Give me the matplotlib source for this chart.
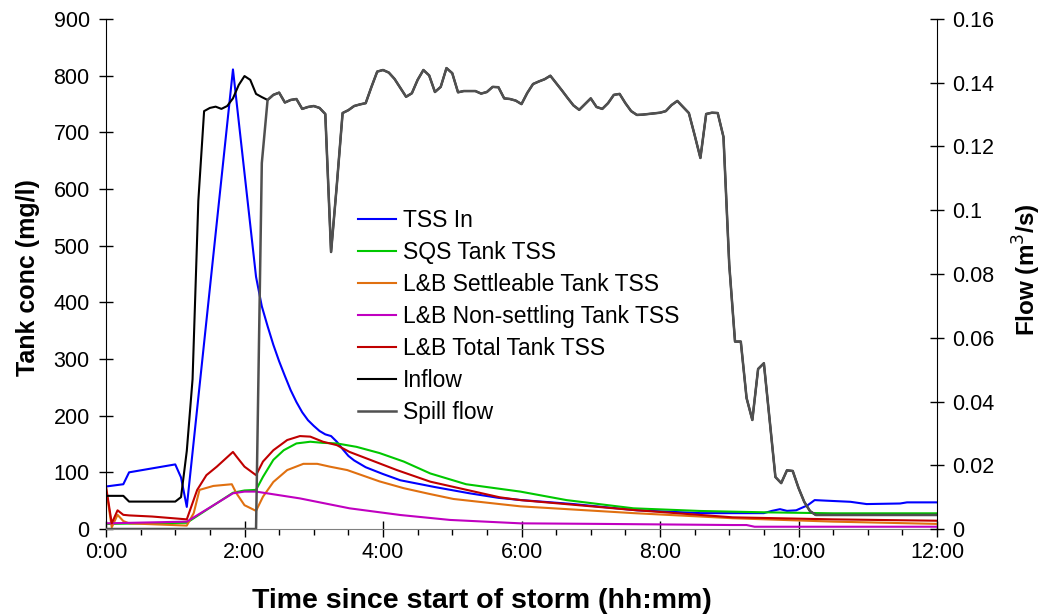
import matplotlib
matplotlib.use("Agg")
import matplotlib.pyplot as plt
from matplotlib.ticker import MultipleLocator, FuncFormatter

plt.rcParams['font.family'] = ['Liberation Sans', 'DejaVu Sans']

# ---------------- data (time in minutes since start of storm) ----------------
flow_time = [5 * k for k in range(124)] + [720]
inflow = [0.0104, 0.0104, 0.0104, 0.0104, 0.0086, 0.0086, 0.0086, 0.0086, 0.0086, 0.0086,
          0.0086, 0.0086, 0.0086, 0.0100, 0.0245, 0.0470, 0.1030, 0.1311, 0.1321, 0.1325,
          0.1318, 0.1327, 0.1351, 0.1393, 0.1421, 0.1409, 0.1365, 0.1355, 0.1346, 0.1362,
          0.1369, 0.1338, 0.1346, 0.1349, 0.1318, 0.1324, 0.1327, 0.1321, 0.1302, 0.0869,
          0.1080, 0.1305, 0.1314, 0.1327, 0.1332, 0.1336, 0.1387, 0.1435, 0.1440, 0.1432,
          0.1412, 0.1384, 0.1356, 0.1367, 0.1409, 0.1440, 0.1423, 0.1371, 0.1387, 0.1446,
          0.1430, 0.1370, 0.1374, 0.1374, 0.1374, 0.1366, 0.1371, 0.1387, 0.1386, 0.1351,
          0.1349, 0.1344, 0.1333, 0.1368, 0.1396, 0.1404, 0.1411, 0.1422, 0.1399, 0.1376,
          0.1352, 0.1329, 0.1315, 0.1333, 0.1351, 0.1324, 0.1318, 0.1336, 0.1362, 0.1365,
          0.1336, 0.1311, 0.1299, 0.1300, 0.1302, 0.1304, 0.1306, 0.1311, 0.1330, 0.1343,
          0.1324, 0.1305, 0.1236, 0.1164, 0.1302, 0.1306, 0.1305, 0.1230, 0.0829, 0.0588,
          0.0588, 0.0411, 0.0342, 0.0502, 0.0520, 0.0342, 0.0163, 0.0144, 0.0184, 0.0182,
          0.0129, 0.0085, 0.0056, 0.0044, 0.0044]
# spill flow: zero until 2:10, then follows the inflow
spill_flow = [0.0] * 27 + [0.1148] + inflow[28:]

tss_in_time = [0, 15, 20, 60, 65, 70, 110, 130, 135, 140, 145, 150, 155, 160, 165, 170,
               175, 180, 185, 190, 195, 200, 205, 210, 215, 220, 225, 230, 235, 240, 255,
               285, 315, 340, 360, 405, 460, 515, 570, 577, 584, 590, 598, 608, 614, 624,
               645, 659, 688, 694, 720]
tss_in = [75, 79, 100, 114, 91, 39, 811, 445, 393, 358, 325, 296, 270, 245, 224, 206,
          192, 182, 173, 167, 164, 154, 141, 129, 121, 115, 109, 105, 101, 97, 86,
          74, 63, 55, 51, 44, 33, 28, 28, 32, 35, 32, 33, 42, 51, 50,
          48, 44, 45, 47, 47]

sqs_time = [0, 70, 110, 120, 130, 136, 145, 154, 165, 177, 188, 200, 217, 237, 258, 281,
            312, 359, 399, 457, 515, 572, 630, 720]
sqs_tss = [9, 11, 64, 68, 69, 92, 122, 139, 151, 154, 152, 151, 145, 134, 119, 98,
           79, 66, 51, 36.5, 31.8, 29.4, 27.7, 27.7]

settle_time = [0, 5, 10, 15, 20, 70, 76, 81, 93, 109, 113, 120, 130, 136, 145, 157, 171,
               183, 194, 209, 223, 237, 258, 280, 301, 341, 359, 457, 515, 543, 630, 720]
settle_tss = [72, 3, 25, 14, 10, 6, 28, 69, 76, 79, 63, 42, 32, 57, 83, 104, 115,
              115, 110, 104, 94, 84, 72, 62, 53, 44, 40, 28, 22, 19, 13, 9]

nonsettle_time = [0, 70, 110, 120, 130, 168, 211, 255, 298, 359, 428, 543, 555, 562, 720]
nonsettle_tss = [10, 13, 63, 66, 66, 54, 36.5, 24.7, 16, 10, 9, 7, 7, 4, 4]

total_time = [0, 5, 10, 15, 20, 40, 70, 79, 87, 96, 110, 113, 120, 130, 136, 145, 157,
              168, 177, 188, 200, 211, 229, 252, 281, 341, 359, 457, 543, 630, 720]
total_tss = [75, 10, 33, 25, 24, 22, 17, 69, 95, 110, 136, 128, 110, 95, 119, 139, 157,
             164, 163, 154, 148, 136, 122, 104, 83.5, 56, 51, 33.5, 20.6, 17, 14.6]

x_ticks = [0, 120, 240, 360, 480, 600, 720]
x_labels = ["0:00", "2:00", "4:00", "6:00", "8:00", "10:00", "12:00"]

# ---------------- figure ----------------
W, H = 1045, 616
fig = plt.figure(figsize=(W / 100, H / 100), dpi=100)
L, R, T, B = 106, 937, 19, 529
ax = fig.add_axes([L / W, 1 - B / H, (R - L) / W, (B - T) / H])
ax2 = ax.twinx()

lw = 1.5
h1, = ax.plot(tss_in_time, tss_in, color='#0000ff', lw=lw, label='TSS In')
h2, = ax.plot(sqs_time, sqs_tss, color='#00c800', lw=lw, label='SQS Tank TSS')
h3, = ax.plot(settle_time, settle_tss, color='#e07010', lw=lw, label='L&B Settleable Tank TSS')
h4, = ax.plot(nonsettle_time, nonsettle_tss, color='#c000c0', lw=lw, label='L&B Non-settling Tank TSS')
h5, = ax.plot(total_time, total_tss, color='#c00000', lw=lw, label='L&B Total Tank TSS')
h6, = ax2.plot(flow_time, inflow, color='#000000', lw=lw, label='Inflow')
h7, = ax2.plot(flow_time, spill_flow, color='#505050', lw=lw + 0.3, label='Spill flow')

ax.set_xlim(0, 720)
ax.set_ylim(0, 900)
ax2.set_ylim(0, 0.16)

ax.set_xticks(x_ticks)
ax.set_xticklabels(x_labels)
ax.xaxis.set_minor_locator(MultipleLocator(30))
ax.yaxis.set_major_locator(MultipleLocator(100))
ax2.yaxis.set_major_locator(MultipleLocator(0.02))
ax2.yaxis.set_major_formatter(FuncFormatter(lambda v, p: f"{v:.2f}".rstrip('0').rstrip('.') if v else "0"))

fs = 15.5
ax.tick_params(axis='x', which='major', direction='inout', length=12, width=1, labelsize=fs, pad=3)
ax.tick_params(axis='x', which='minor', direction='out', length=4.5, width=1)
ax.tick_params(axis='y', which='major', direction='inout', length=9.5, width=1, labelsize=fs, pad=7)
ax2.tick_params(axis='y', which='major', direction='inout', length=9.5, width=1, labelsize=fs, pad=6)

for a in (ax, ax2):
    a.spines['top'].set_visible(False)
ax.spines['right'].set_visible(False)
ax2.spines['left'].set_visible(False)
ax2.spines['bottom'].set_visible(False)
ax.spines['bottom'].set_color('#808080')
ax.spines['left'].set_color('#000000')
ax2.spines['right'].set_color('#000000')

fig.text(482 / W, 1 - 601 / H, 'Time since start of storm (hh:mm)', ha='center', va='center',
         fontsize=20.5, fontweight='bold')
fig.text(28 / W, 1 - 278 / H, 'Tank conc (mg/l)', ha='center', va='center', rotation=90,
         fontsize=18, fontweight='bold')
fig.text(1027 / W, 1 - 270 / H, 'Flow (m$^3$/s)', ha='center', va='center', rotation=90,
         fontsize=17.5, fontweight='bold')

leg_fs = 16.5
leg = ax2.legend(handles=[h1, h2, h3, h4, h5, h6, h7], loc='upper left',
                 bbox_to_anchor=(358 / W, 1 - 209 / H), bbox_transform=fig.transFigure,
                 frameon=False, fontsize=leg_fs, handlelength=1.66, handletextpad=0.3,
                 labelspacing=0.39, borderpad=0, borderaxespad=0)

fig.savefig('out.png', dpi=100)
